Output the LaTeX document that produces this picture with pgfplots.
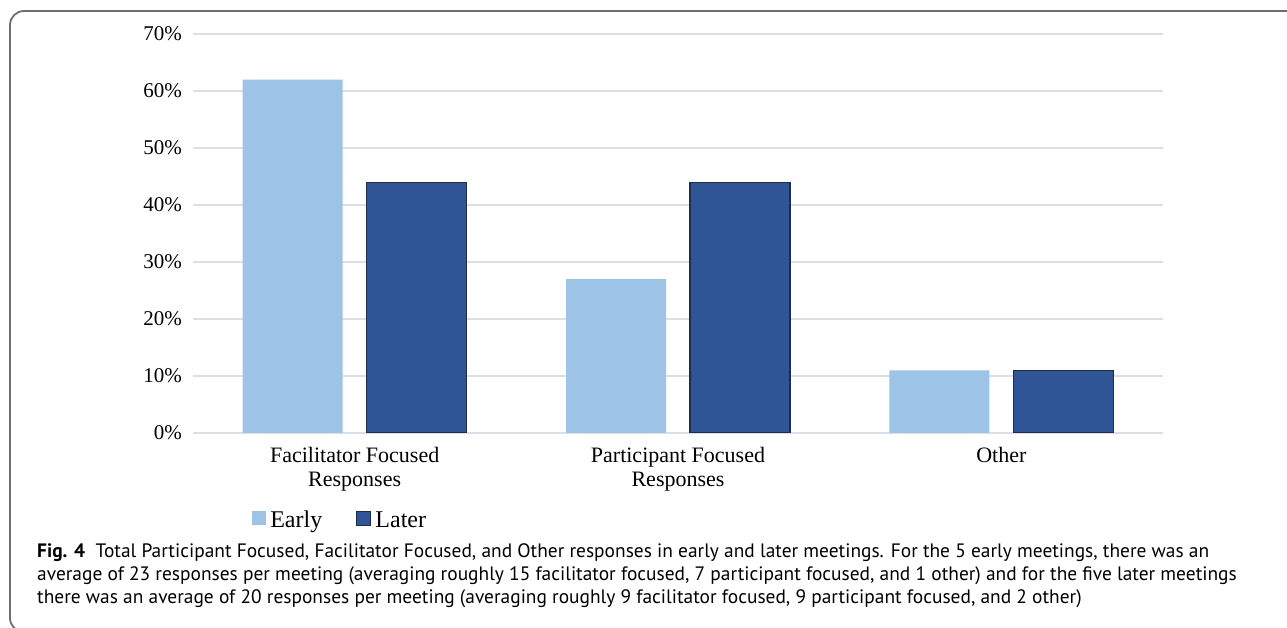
\documentclass[border=0pt]{standalone}
\usepackage{fontspec}
\setmainfont{Liberation Serif}
\newfontfamily\capfont{PT Sans}
\usepackage{pgfplots}
\pgfplotsset{compat=1.18}
\definecolor{early}{HTML}{9DC3E6}
\definecolor{later}{HTML}{2F5597}
\definecolor{laterline}{HTML}{1F2D4A}
\definecolor{gridc}{HTML}{DCDFE6}
\definecolor{framec}{HTML}{6E6E6E}
\newlength\capw
\begin{document}%
\settowidth\capw{\capfont\fontsize{10}{12}\selectfont\textbf{Fig. 4}\hspace{0.55em}Total Participant Focused, Facilitator Focused, and Other responses in early and later meetings. For the 5 early meetings, there was an}%
\pgfmathsetmacro\capsize{10*1172/\capw}%
\begin{tikzpicture}[x=1pt,y=1pt]
\path[use as bounding box] (0,0) rectangle (1287,628);
\clip (0,0) rectangle (1287,628);
\draw[rounded corners=14pt, line width=1.8pt, color=framec] (10,-4) rectangle (1310,617);
\begin{axis}[
  at={(193pt,195pt)}, anchor=south west,
  scale only axis, width=970pt, height=399pt,
  xmin=-0.5, xmax=2.5, ymin=0, ymax=70,
  ybar=24pt, bar width=100pt,
  axis line style={draw=none}, major tick length=0pt,
  ytick={0,10,20,30,40,50,60,70},
  ymajorgrids, grid style={color=gridc, line width=1.8pt},
  /pgf/number format/assume math mode=true,
  yticklabel={\pgfmathprintnumber{\tick}\%},
  yticklabel style={anchor=east, inner sep=0pt, xshift=-11pt, font=\fontsize{21}{21}\selectfont},
  xtick={0,1,2},
  xticklabels={{Facilitator Focused\\Responses},{Participant Focused\\Responses},{Other}},
  xticklabel style={align=center, anchor=north, inner sep=0pt, yshift=-14pt, font=\fontsize{22}{24}\selectfont},
  legend columns=2,
  legend cell align=left,
  legend style={draw=none, fill=none, inner sep=0pt, at={(0.0609,-0.218)}, anchor=west,
    font=\fontsize{24}{24}\selectfont, nodes={inner xsep=4pt, inner ysep=0pt},
    /tikz/every even column/.append style={column sep=30pt}},
  legend image code/.code={\fill[#1] (0pt,-5.5pt) rectangle (14pt,8.5pt);},
]
\addplot[fill=early, draw=none] coordinates {(0,62) (1,27) (2,11)};
\addplot[fill=later, draw=laterline, line width=1.2pt] coordinates {(0,44) (1,44) (2,11)};
\legend{Early, Later}
\end{axis}
\begin{scope}[every node/.style={anchor=base west, inner sep=0pt, font=\capfont\fontsize{\capsize}{\capsize}\selectfont}]
\node at (37,70) {\textbf{Fig. 4}\hspace{0.55em}Total Participant Focused, Facilitator Focused, and Other responses in early and later meetings. For the 5 early meetings, there was an};
\node at (37,47) {average of 23 responses per meeting (averaging roughly 15 facilitator focused, 7 participant focused, and 1 other) and for the five later meetings};
\node at (37,24) {there was an average of 20 responses per meeting (averaging roughly 9 facilitator focused, 9 participant focused, and 2 other)};
\end{scope}
\end{tikzpicture}%
\end{document}
